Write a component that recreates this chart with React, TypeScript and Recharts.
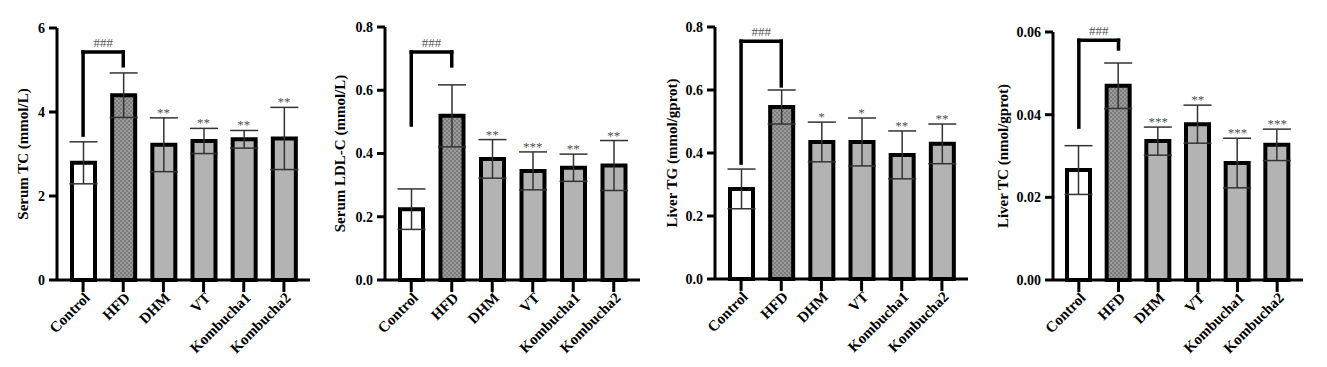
import React from 'react';
import {
  BarChart,
  Bar,
  Cell,
  XAxis,
  YAxis,
  ErrorBar,
  ReferenceLine,
  ReferenceDot,
} from 'recharts';

const categories = ['Control', 'HFD', 'DHM', 'VT', 'Kombucha1', 'Kombucha2'];

// Serum TC
const tcMean = [2.79, 4.4, 3.22, 3.31, 3.35, 3.37];
const tcSd = [0.5, 0.53, 0.64, 0.3, 0.21, 0.74];
const tcStars = ['', '', '**', '**', '**', '**'];
const tcTicks = [0, 2, 4, 6];
const tcBracket = [5.43, 3.45, 5.1];

// Serum LDL-C
const ldlMean = [0.224, 0.519, 0.383, 0.345, 0.355, 0.362];
const ldlSd = [0.064, 0.098, 0.061, 0.06, 0.043, 0.079];
const ldlStars = ['', '', '**', '***', '**', '**'];
const ldlTicks = [0, 0.2, 0.4, 0.6, 0.8];
const ldlBracket = [0.721, 0.49, 0.677];

// Liver TG
const tgMean = [0.286, 0.546, 0.435, 0.435, 0.394, 0.429];
const tgSd = [0.063, 0.054, 0.063, 0.076, 0.076, 0.063];
const tgStars = ['', '', '*', '*', '**', '**'];
const tgTicks = [0, 0.2, 0.4, 0.6, 0.8];
const tgBracket = [0.755, 0.368, 0.613];

// Liver TC
const ltcMean = [0.0266, 0.047, 0.0336, 0.0377, 0.0283, 0.0327];
const ltcSd = [0.0059, 0.0055, 0.0034, 0.0046, 0.006, 0.0038];
const ltcStars = ['', '', '***', '**', '***', '***'];
const ltcTicks = [0, 0.02, 0.04, 0.06];
const ltcBracket = [0.058, 0.037, 0.0559];

const FONT = '"Liberation Serif", "Times New Roman", serif';
const H = 367;

interface PanelProps {
  id: string;
  left: number;
  width: number;
  axisX: number;
  top: number;
  bottom: number;
  right: number;
  title: string;
  titleX: number;
  mean: number[];
  sd: number[];
  stars: string[];
  ticks: number[];
  decimals: number;
  bracket: number[];
}

const XTick = (props: any) => {
  const { x, y, payload } = props;
  const ax = x + 4;
  const ay = y + 1;
  return (
    <text
      x={ax}
      y={ay}
      dy="0.35em"
      transform={`rotate(-45 ${ax} ${ay})`}
      textAnchor="end"
      fontFamily={FONT}
      fontWeight="bold"
      fontSize={15}
      fill="#000"
    >
      {payload.value}
    </text>
  );
};

function Panel(p: PanelProps) {
  const data = categories.map((name, i) => ({ name, mean: p.mean[i], sd: p.sd[i] }));
  const max = p.ticks[p.ticks.length - 1];
  const fills = ['#ffffff', `url(#dots-${p.id})`, '#b3b3b3', '#b3b3b3', '#b3b3b3', '#b3b3b3'];
  const [bTop, bLeft, bRight] = p.bracket;
  return (
    <div style={{ position: 'absolute', left: p.left, top: 0 }}>
      <BarChart
        width={p.width}
        height={H}
        data={data}
        margin={{ top: p.top, right: p.width - p.right, bottom: 0, left: 0 }}
        barCategoryGap={0}
      >
        <defs>
          <pattern id={`dots-${p.id}`} width={4} height={4} patternUnits="userSpaceOnUse">
            <rect width={4} height={4} fill="#9a9a9a" />
            <circle cx={1} cy={1} r={0.75} fill="#505050" />
            <circle cx={3} cy={3} r={0.75} fill="#505050" />
          </pattern>
        </defs>
        <XAxis
          dataKey="name"
          type="category"
          interval={0}
          padding={{ left: 6, right: 6 }}
          height={H - p.bottom}
          tickSize={12}
          tickMargin={2}
          axisLine={{ stroke: '#000', strokeWidth: 3 }}
          tickLine={{ stroke: '#000', strokeWidth: 3 }}
          tick={<XTick />}
        />
        <YAxis
          width={p.axisX}
          domain={[0, max]}
          ticks={p.ticks}
          interval={0}
          tickSize={8}
          tickMargin={4}
          axisLine={{ stroke: '#000', strokeWidth: 3 }}
          tickLine={{ stroke: '#000', strokeWidth: 3 }}
          tickFormatter={(v: number) => v.toFixed(p.decimals)}
          tick={{ fill: '#000', fontFamily: FONT, fontWeight: 'bold', fontSize: 14 }}
          label={{
            content: (lp: any) => {
              const vb = lp.viewBox || {};
              const cy = (vb.y ?? p.top) + (vb.height ?? p.bottom - p.top) / 2;
              return (
                <text
                  x={p.titleX}
                  y={cy}
                  transform={`rotate(-90 ${p.titleX} ${cy})`}
                  textAnchor="middle"
                  dy="0.35em"
                  fontFamily={FONT}
                  fontWeight="bold"
                  fontSize={15}
                  fill="#000"
                >
                  {p.title}
                </text>
              );
            },
          }}
        />
        <Bar dataKey="mean" barSize={23} stroke="#000" strokeWidth={4} isAnimationActive={false}>
          {data.map((d, i) => (
            <Cell key={d.name} fill={fills[i]} />
          ))}
          <ErrorBar dataKey="sd" width={14} stroke="#333" strokeWidth={1.5} />
        </Bar>
        <ReferenceLine
          segment={[{ x: 'Control', y: bLeft }, { x: 'Control', y: bTop }]}
          stroke="#000"
          strokeWidth={3.5}
          strokeLinecap="square"
        />
        <ReferenceLine
          segment={[{ x: 'HFD', y: bRight }, { x: 'HFD', y: bTop }]}
          stroke="#000"
          strokeWidth={3.5}
          strokeLinecap="square"
        />
        <ReferenceLine
          segment={[{ x: 'Control', y: bTop }, { x: 'HFD', y: bTop }]}
          stroke="#000"
          strokeWidth={3.5}
          strokeLinecap="square"
          label={{ value: '###', position: 'top', offset: 5, fill: '#555', fontSize: 13, fontFamily: FONT }}
        />
        {data.map((d, i) =>
          p.stars[i] ? (
            <ReferenceDot
              key={`s-${d.name}`}
              x={d.name}
              y={d.mean + d.sd}
              r={0}
              stroke="none"
              fill="none"
              label={{ value: p.stars[i], position: 'top', offset: 1, fill: '#505050', fontSize: 13, fontFamily: FONT }}
            />
          ) : null
        )}
      </BarChart>
    </div>
  );
}

export default function App() {
  return (
    <div style={{ position: 'absolute', left: 0, top: 0, width: 1327, height: H, background: '#fff' }}>
      <Panel id="tc" left={0} width={330} axisX={57} top={28} bottom={280} right={310}
        title="Serum TC (mmol/L)" titleX={23} mean={tcMean} sd={tcSd} stars={tcStars}
        ticks={tcTicks} decimals={0} bracket={tcBracket} />
      <Panel id="ldl" left={330} width={330} axisX={55} top={27} bottom={280} right={310}
        title="Serum LDL-C (mmol/L)" titleX={10} mean={ldlMean} sd={ldlSd} stars={ldlStars}
        ticks={ldlTicks} decimals={1} bracket={ldlBracket} />
      <Panel id="tg" left={660} width={330} axisX={55} top={27} bottom={279} right={308}
        title="Liver TG (mmol/gprot)" titleX={12} mean={tgMean} sd={tgSd} stars={tgStars}
        ticks={tgTicks} decimals={1} bracket={tgBracket} />
      <Panel id="ltc" left={990} width={337} axisX={63} top={32} bottom={280} right={313}
        title="Liver TC (nmol/gprot)" titleX={13} mean={ltcMean} sd={ltcSd} stars={ltcStars}
        ticks={ltcTicks} decimals={2} bracket={ltcBracket} />
    </div>
  );
}
